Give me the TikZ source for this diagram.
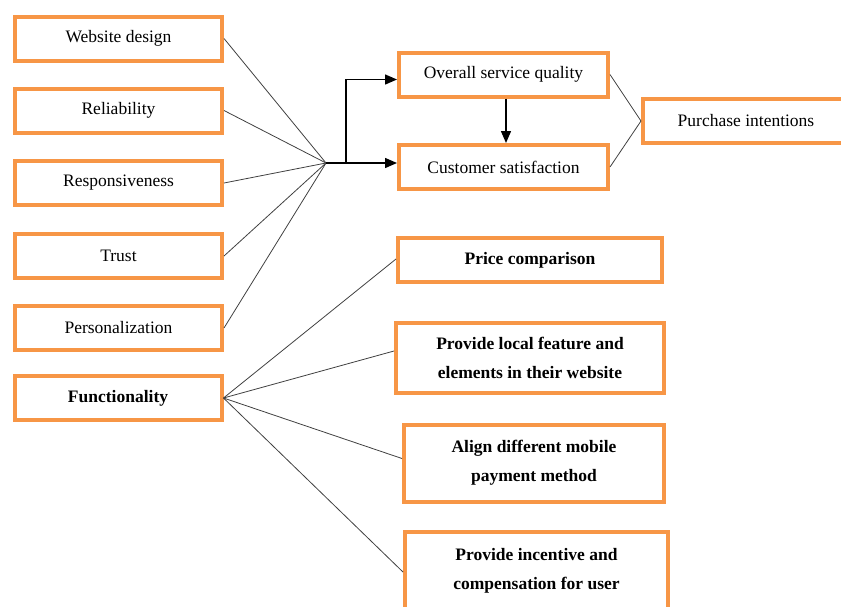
\documentclass[tikz,border=0pt]{standalone}
\usepackage{fontspec}
\setmainfont{Liberation Serif}
\usetikzlibrary{arrows.meta}
\definecolor{boxorange}{RGB}{247,150,70}

\begin{document}
\begin{tikzpicture}[x=1pt, y=-1pt,
    box/.style={draw=boxorange, line width=4pt, fill=white, inner sep=2pt, align=center, font=\fontsize{17.5}{29}\selectfont},
    lbox/.style={box, minimum width=207pt, minimum height=44pt},
    rbox/.style={box, minimum width=209pt, minimum height=44pt},
    link/.style={draw=black!75, line width=0.8pt},
    arr/.style={line width=1.4pt, -{Triangle[length=12pt,width=10pt]}}]
    \useasboundingbox (0,0) rectangle (841,606);
    \node[lbox] (wd) at (118.5,38.5) {Website design};
    \node[lbox] (rel) at (118.5,110.5) {Reliability};
    \node[lbox] (resp) at (118.5,183) {Responsiveness};
    \node[lbox] (trust) at (118.5,256) {Trust};
    \node[lbox] (pers) at (118.5,328) {Personalization};
    \node[lbox] (func) at (118,398) {\textbf{Functionality}};
    \node[rbox] (osq) at (503.5,74.5) {Overall service quality};
    \node[rbox] (cs) at (503.5,167) {Customer satisfaction};
    \node[box, minimum width=206pt, minimum height=44pt] (pi) at (746,121) {Purchase intentions};
    \node[box, minimum width=264pt, minimum height=44pt] (price) at (530,260) {\textbf{Price comparison}};
    \node[box, minimum width=268pt, minimum height=70pt] (local) at (530,358) {\textbf{Provide local feature and}\\\textbf{elements in their website}};
    \node[box, minimum width=260pt, minimum height=77pt] (align) at (534,463) {\textbf{Align different mobile}\\\textbf{payment method}};
    \node[box, minimum width=263pt, minimum height=79pt] (incent) at (536.5,571) {\textbf{Provide incentive and}\\\textbf{compensation for user}};
    \coordinate (hub) at (326,163);
    \coordinate (br) at (346,163);
    \draw[link] (wd.east) -- (hub);
    \draw[link] (rel.east) -- (hub);
    \draw[link] (resp.east) -- (hub);
    \draw[link] (trust.east) -- (hub);
    \draw[link] (pers.east) -- (hub);
    \draw[arr] (hub) -- (hub -| cs.west);
    \draw[arr] (br) |- ([yshift=-5pt]osq.west);
    \draw[arr] ([xshift=2.5pt]osq.south) -- ([xshift=2.5pt]cs.north);
    \draw[link] (osq.east) -- (pi.west);
    \draw[link] (cs.east) -- (pi.west);
    \draw[link] (func.east) -- ([yshift=1pt]price.west);
    \draw[link] (func.east) -- ([yshift=7pt]local.west);
    \draw[link] (func.east) -- ([yshift=4.5pt]align.west);
    \draw[link] (func.east) -- ([yshift=-1pt]incent.west);
\end{tikzpicture}
\end{document}
